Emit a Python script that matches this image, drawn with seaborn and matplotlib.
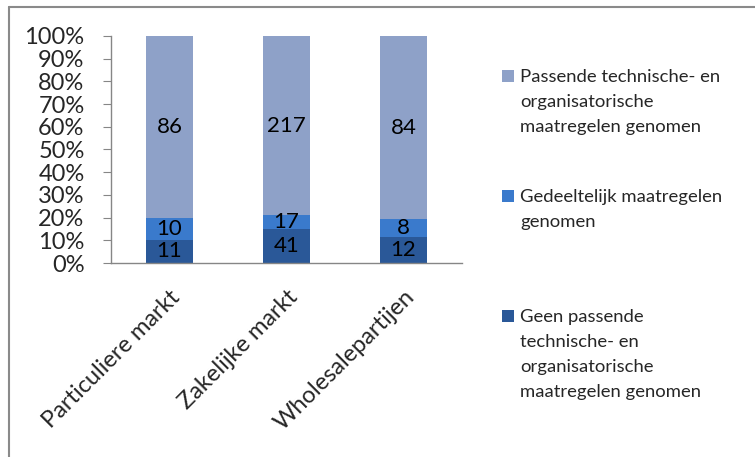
import matplotlib
matplotlib.use("Agg")
import matplotlib.pyplot as plt
from matplotlib.lines import Line2D
from matplotlib.patches import Rectangle
import numpy as np
import pandas as pd
import seaborn as sns

categories = ["Particuliere markt", "Zakelijke markt", "Wholesalepartijen"]
geen = [11, 41, 12]
gedeeltelijk = [10, 17, 8]
passende = [86, 217, 84]
series_labels = [
    ["Geen passende", "technische- en", "organisatorische", "maatregelen genomen"],
    ["Gedeeltelijk maatregelen", "genomen"],
    ["Passende technische- en", "organisatorische", "maatregelen genomen"],
]
colors = ["#2A5898", "#3A7ACC", "#8EA1C8"]
ytick_labels = ["0%", "10%", "20%", "30%", "40%", "50%", "60%", "70%", "80%", "90%", "100%"]

sns.set_style("white")
plt.rcParams["font.family"] = ["Lato", "DejaVu Sans"]

W, H = 755, 457
fig = plt.figure(figsize=(W / 100, H / 100), dpi=100)
ax = fig.add_axes([111 / W, 1 - 263 / H, 351 / W, 227 / H])

layers = np.array([geen, gedeeltelijk, passende], dtype=float)
totals = layers.sum(axis=0)
pct = layers / totals * 100
cum_top = np.cumsum(pct, axis=0)
cum_bot = cum_top - pct

# overlay cumulative bars, tallest first
for i in reversed(range(3)):
    df = pd.DataFrame({"cat": categories, "val": cum_top[i]})
    sns.barplot(data=df, x="cat", y="val", color=colors[i], saturation=1,
                width=0.4, ax=ax, linewidth=0)

for i in range(3):
    for j, cat in enumerate(categories):
        ax.text(j, (cum_bot[i, j] + cum_top[i, j]) / 2, str(int(layers[i, j])),
                ha="center", va="center", fontsize=16, color="black")

ax.set_xlim(-0.5, 2.5)
ax.set_ylim(0, 100)
ax.set_yticks(np.arange(0, 101, 10))
ax.set_yticklabels(ytick_labels, fontsize=17)
ax.set_xticks(np.arange(-0.5, 2.6, 1), minor=False)
ax.set_xticklabels([])
ax.set_xticks(range(3), minor=True)
ax.set_xticklabels(categories, minor=True, fontsize=17, rotation=45,
                   ha="right", va="top", rotation_mode="anchor")
ax.tick_params(axis="x", which="minor", length=0, pad=17)
ax.tick_params(axis="x", which="major", length=6, color="#868686", direction="out")
ax.tick_params(axis="y", length=6, color="#868686", direction="out", pad=13, left=True)
ax.set_xlabel("")
ax.set_ylabel("")
for s in ["top", "right"]:
    ax.spines[s].set_visible(False)
for s in ["left", "bottom"]:
    ax.spines[s].set_color("#868686")
    ax.spines[s].set_linewidth(1)

# legend (manual, marker aligned with first text line)
entries = [(2, 82), (1, 202), (0, 322)]
for idx, base in entries:
    fig.patches.append(Rectangle((502 / W, 1 - base / H), 12 / W, 12 / H,
                                 transform=fig.transFigure, facecolor=colors[idx],
                                 edgecolor="none"))
    for k, line in enumerate(series_labels[idx]):
        fig.text(520 / W, 1 - (base + 25 * k) / H, line, fontsize=13.3,
                 va="baseline", ha="left")

# outer border (only top and left visible)
fig.add_artist(Line2D([9 / W, 9 / W], [0, 1 - 7 / H], transform=fig.transFigure,
                      color="#8a8a8a", lw=1.5))
fig.add_artist(Line2D([9 / W, 1], [1 - 7 / H, 1 - 7 / H], transform=fig.transFigure,
                      color="#8a8a8a", lw=1.5))

fig.savefig("out.png", dpi=100)
